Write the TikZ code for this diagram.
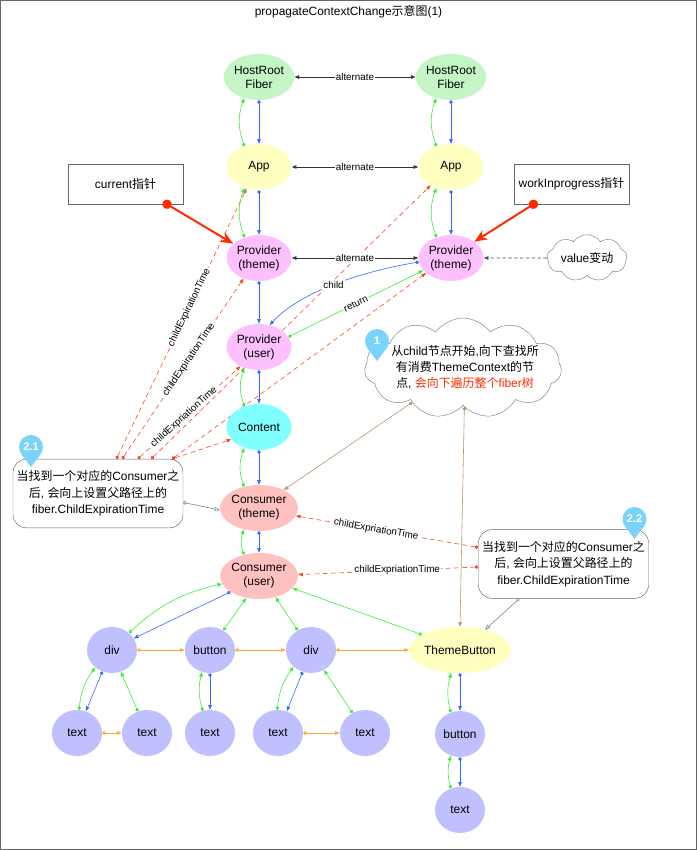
\documentclass[tikz,border=0pt]{standalone}
\usepackage{fontspec}
\setmainfont{Liberation Sans}
\newfontfamily\cjk{Noto Sans CJK SC}
\newcommand{\zh}[1]{{\cjk #1}}
\usetikzlibrary{arrows.meta,shapes.geometric,shapes.symbols}
\pgfdeclarelayer{bg}
\pgfsetlayers{bg,main}

\definecolor{hrgreen}{HTML}{C4F5C4}
\definecolor{appyel}{HTML}{FFFFC0}
\definecolor{provpink}{HTML}{FFC0FF}
\definecolor{contcyan}{HTML}{80FFFF}
\definecolor{conspink}{HTML}{FFC0C0}
\definecolor{treeblue}{HTML}{C0C0FF}
\definecolor{lnblue}{HTML}{3366FF}
\definecolor{lngreen}{HTML}{33EE33}
\definecolor{lnorange}{HTML}{FFA833}
\definecolor{lnred}{HTML}{FF4422}
\definecolor{ptrred}{HTML}{FF2A00}
\definecolor{lnbrown}{HTML}{B8926A}
\definecolor{badgeblue}{HTML}{7AD3FA}
\definecolor{framegray}{HTML}{666666}

\begin{document}
\begin{tikzpicture}[x=0.03cm, y=0.03cm,
  every node/.style={font=\fontsize{10.2}{12}\selectfont},
  fib/.style={ellipse, inner sep=0pt, align=center, minimum width=1.95cm, minimum height=1.38cm},
  leaf/.style={fib, minimum width=1.5cm, fill=treeblue},
  ptrbox/.style={draw=framegray, minimum width=3.45cm, minimum height=1.2cm, inner sep=0pt},
  notebox/.style={draw=framegray, rounded corners=0.4cm, align=center, minimum width=5.1cm, minimum height=2.06cm, inner sep=0pt, font=\fontsize{10.2}{14}\selectfont},
  lbl/.style={fill=white, inner sep=1pt, font=\fontsize{8.4}{10}\selectfont},
  badgetxt/.style={text=white, font=\bfseries\fontsize{9.5}{10}\selectfont, inner sep=0pt},
  childln/.style={draw=lnblue, line width=0.5pt, {Circle[length=3pt]}-{Triangle[length=4pt,width=3pt]}},
  retln/.style={childln, draw=lngreen},
  sibln/.style={childln, draw=lnorange},
  brnln/.style={childln, draw=lnbrown},
  expln/.style={childln, draw=lnred, dash pattern=on 4pt off 3pt},
  altln/.style={draw=black!80, line width=0.5pt, {Triangle[length=4pt,width=3pt]}-{Triangle[length=4pt,width=3pt]}},
  noteln/.style={draw=gray, line width=0.5pt, {Circle[open,length=3pt]}-{Triangle[open,length=4.5pt,width=3.5pt]}},
  valln/.style={draw=black!70, line width=0.5pt, dash pattern=on 3pt off 2pt, -{Triangle[length=4pt,width=3pt]}},
  ptrln/.style={draw=ptrred, line width=1.7pt, shorten <=-4pt, {Circle[length=8pt]}-{Stealth[length=11pt,width=9pt]}}
]
\useasboundingbox (0,0) rectangle (697,-850);
\draw [framegray, line width=0.6pt] (0.5,-0.5) rectangle (696.5,-849.5);
\node (ttl) at (348.5,-12) {propagateContextChange\zh{示意图}(1)};

% current tree and workInProgress tree
\node [fib, fill=hrgreen] (hrL) at (259,-77) {HostRoot\\Fiber};
\node [fib, fill=hrgreen] (hrR) at (451,-77) {HostRoot\\Fiber};
\node [fib, fill=appyel] (appL) at (259,-167) {App};
\node [fib, fill=appyel] (appR) at (451,-167) {App};
\node [fib, fill=provpink] (ptL) at (259,-258) {Provider\\(theme)};
\node [fib, fill=provpink] (ptR) at (451,-258) {Provider\\(theme)};
\node [fib, fill=provpink] (pu) at (259,-347) {Provider\\(user)};
\node [fib, fill=contcyan] (cont) at (259,-427) {Content};
\node [fib, fill=conspink, minimum width=2.19cm] (cth) at (259,-508) {Consumer\\(theme)};
\node [fib, fill=conspink, minimum width=2.19cm] (cus) at (259,-576) {Consumer\\(user)};

\node [leaf] (div1) at (112,-650) {div};
\node [leaf] (btn1) at (210,-650) {button};
\node [leaf] (div2) at (311,-650) {div};
\node [fib, fill=appyel, minimum width=2.73cm] (tbtn) at (460,-650) {ThemeButton};
\node [leaf] (txt1) at (77,-733) {text};
\node [leaf] (txt2) at (147,-733) {text};
\node [leaf] (txt3) at (210,-733) {text};
\node [leaf] (txt4) at (278,-733) {text};
\node [leaf] (txt5) at (365,-733) {text};
\node [leaf] (btn2) at (460,-734) {button};
\node [leaf] (txt6) at (460,-810) {text};

% pointers and notes
\node [ptrbox] (curp) at (125.5,-184) {current\zh{指针}};
\node [ptrbox] (wipp) at (571.5,-184) {workInprogress\zh{指针}};
\node [cloud, cloud puffs=9, cloud puff arc=110, cloud ignores aspect, draw=gray, minimum width=2.4cm, minimum height=1.4cm, inner sep=0pt] (valc) at (587,-258) {};
\node (valct) at (587,-258) {value\zh{变动}};
\node [cloud, cloud puffs=11, cloud puff arc=110, cloud ignores aspect, draw=gray, minimum width=5.91cm, minimum height=3cm, inner sep=0pt] (bigc) at (463,-368) {};
\node [align=center, font=\fontsize{10.2}{13.6}\selectfont] (bigct) at (465,-367) {\zh{从}child\zh{节点开始},\zh{向下查找所}\\\zh{有消费}ThemeContext\zh{的节}\\\zh{点}, \textcolor{ptrred}{\zh{会向下遍历整个}fiber\zh{树}}};
\node [notebox] (noteL) at (98,-493.5) {\zh{当找到一个对应的}Consumer\zh{之}\\\zh{后}, \zh{会向上设置父路径上的}\\fiber.ChildExpirationTime};
\node [notebox] (noteR) at (563.5,-564) {\zh{当找到一个对应的}Consumer\zh{之}\\\zh{后}, \zh{会向上设置父路径上的}\\fiber.ChildExpirationTime};

\foreach \bx/\by/\bt/\bn in {31/-447/2.1/bdgA, 377/-341/1/bdgB, 634.5/-519/2.2/bdgC}{
  \fill [badgeblue] (\bx,\by) circle (0.36cm);
  \fill [badgeblue] (\bx,\by-20) -- (\bx-9.6,\by-7.2) -- (\bx+9.6,\by-7.2) -- cycle;
  \node [badgetxt] (\bn) at (\bx,\by) {\bt};
}

% alternate
\draw [altln] (hrL) -- node [lbl] {alternate} (hrR);
\draw [altln] (appL) -- node [lbl] {alternate} (appR);
\draw [altln] (ptL) -- node [lbl] {alternate} (ptR);

% child / return
\foreach \p/\c in {hrL/appL, appL/ptL, ptL/pu, pu/cont, cont/cth, cth/cus, hrR/appR, appR/ptR}
  \draw [childln] (\p.south) -- (\c.north);
\foreach \p/\c in {hrL/appL, appL/ptL, pu/cont, cont/cth, cth/cus, hrR/appR, appR/ptR}
  \draw [retln] (\c.125) to [bend left=20] (\p.235);
\draw [childln] (ptR.187) .. controls (360,-272) and (300,-292) .. node [lbl] {child} (pu.64);
\draw [retln] (pu.19) -- node [lbl, sloped] {return} (ptR.204);

\draw [ptrln] (curp.-26) -- (ptL.151);
\draw [ptrln] (wipp.208) -- (ptR.35);
\draw [valln] (valc) -- (ptR);

\begin{pgfonlayer}{bg}
\draw [expln] (noteL.62) -- node [lbl, sloped, pos=0.56] {childExpirationTime} (appL.240);
\draw [expln] (noteL.55) -- node [lbl, sloped, pos=0.55] {childExpirationTime} (ptL.233);
\draw [expln] (noteL.41.5) -- node [lbl, sloped, pos=0.45] {childExpriationTime} (pu.226);
\draw [expln] (noteL.33.6) -- (appR.222);
\draw [expln] (noteL.25) -- (cont.204);
\draw [expln] (noteL.25) -- (ptR.211);
\end{pgfonlayer}
\draw [expln] (noteR.169) -- node [lbl, sloped, pos=0.56] {childExpriationTime} (cth.348);
\draw [expln] (noteR.182) -- node [lbl, pos=0.45] {childExpriationTime} (cus.2);

\draw [brnln] (bigc.214) -- (cth.36);
\draw [brnln] (bigc.272) -- (tbtn.north);
\draw [noteln] (noteL.-6) -- (cth.183);
\draw [noteln] (noteR.218) -- (tbtn.39);

% children of Consumer(user)
\draw [childln] (cus.209) -- (div1.28);
\draw [retln] (div1.45) to [bend left=15] (cus.192);
\draw [retln] (btn1.56) -- (cus.240);
\draw [retln] (div2.124) -- (cus.308);
\draw [retln] (tbtn.158) -- (cus.340);
\draw [sibln] (div1) -- (btn1);
\draw [sibln] (btn1) -- (div2);
\draw [sibln] (div2) -- (tbtn);

\draw [childln] (div1.246) -- (txt1.68);
\draw [retln] (txt1.85) to [bend left=15] (div1.226);
\draw [retln] (txt2.113) -- (div1.292);
\draw [sibln] (txt1) -- (txt2);
\draw [childln] (btn1.south) -- (txt3.north);
\draw [retln] (txt3.108) to [bend left=15] (btn1.250);
\draw [childln] (div2.249) -- (txt4.68);
\draw [retln] (txt4.92) to [bend left=15] (div2.224);
\draw [retln] (txt5.122) -- (div2.303);
\draw [sibln] (txt4) -- (txt5);
\draw [childln] (tbtn.south) -- (btn2.north);
\draw [retln] (btn2.113) to [bend left=15] (tbtn.249);
\draw [childln] (btn2.south) -- (txt6.north);
\draw [retln] (txt6.113) to [bend left=15] (btn2.247);
\end{tikzpicture}
\end{document}
